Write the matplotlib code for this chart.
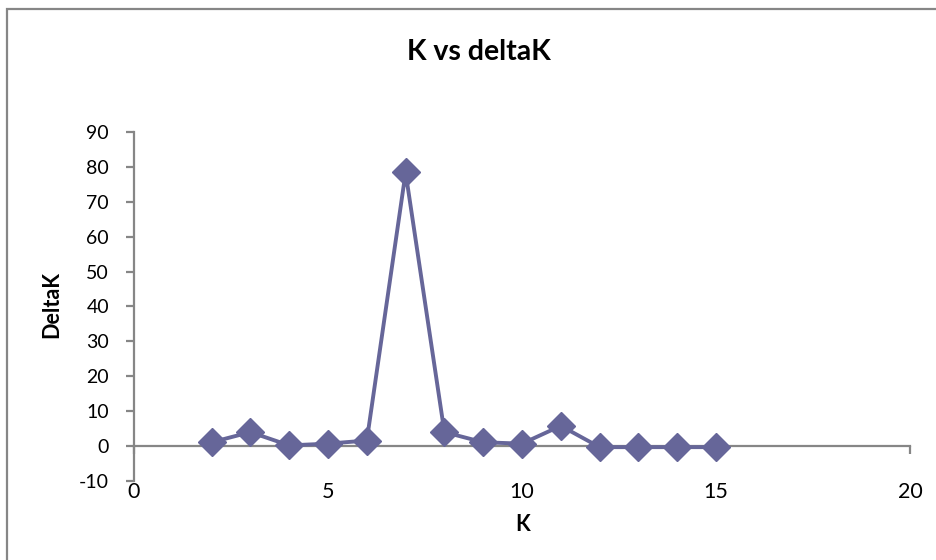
import matplotlib
matplotlib.use("Agg")
import matplotlib.pyplot as plt
from matplotlib.patches import Rectangle

K = [2, 3, 4, 5, 6, 7, 8, 9, 10, 11, 12, 13, 14, 15]
deltaK = [1.1, 4.0, 0.2, 0.7, 1.6, 78.4, 4.0, 1.1, 0.7, 5.8, -0.3, -0.3, -0.3, -0.3]
x_ticks = [0, 5, 10, 15, 20]
y_ticks = [-10, 0, 10, 20, 30, 40, 50, 60, 70, 80, 90]

W, H = 936, 560
plt.rcParams['font.family'] = ['Lato', 'DejaVu Sans']
fig = plt.figure(figsize=(W / 100, H / 100), dpi=100)

# outer chart frame
fig.patches.append(Rectangle((7 / W, -0.05), 1.2, 1 - 9 / H + 0.05, transform=fig.transFigure,
                             fill=False, edgecolor='#868686', linewidth=1.6))

ax = fig.add_axes([134 / W, 1 - 481 / H, 776 / W, 349 / H])
ax.plot(K, deltaK, color='#666699', linewidth=2.8, marker='D', markersize=14,
        markerfacecolor='#666699', markeredgecolor='#666699', clip_on=False, zorder=3)

ax.set_xlim(0, 20)
ax.set_ylim(-10, 90)
ax.set_xticks(x_ticks)
ax.set_yticks(y_ticks)
ax.set_xticklabels([str(v) for v in x_ticks])
ax.set_yticklabels([str(v) for v in y_ticks])

for s in ['top', 'right']:
    ax.spines[s].set_visible(False)
ax.spines['bottom'].set_position(('data', 0))
for s in ['bottom', 'left']:
    ax.spines[s].set_color('#868686')
    ax.spines[s].set_linewidth(1.6)

ax.tick_params(axis='x', direction='out', length=6, width=1.6, color='#868686',
               labelsize=15.5, pad=20, labelcolor='black')
ax.tick_params(axis='y', direction='out', length=6, width=1.6, color='#868686',
               labelsize=14, pad=12, labelcolor='black')

fig.text(479 / W, 1 - 52 / H, 'K vs deltaK', fontsize=20.5, fontweight='bold',
         ha='center', va='center')

ax.set_xlabel('K', fontsize=15.5, fontweight='bold')
ax.xaxis.set_label_coords(0.501, -0.126)
ax.xaxis.label.set_va('center')
ax.set_ylabel('DeltaK', fontsize=15.5, fontweight='bold')
ax.yaxis.set_label_coords(-0.106, 0.507)
ax.yaxis.label.set_va('center')

fig.savefig('out.png', dpi=100)
